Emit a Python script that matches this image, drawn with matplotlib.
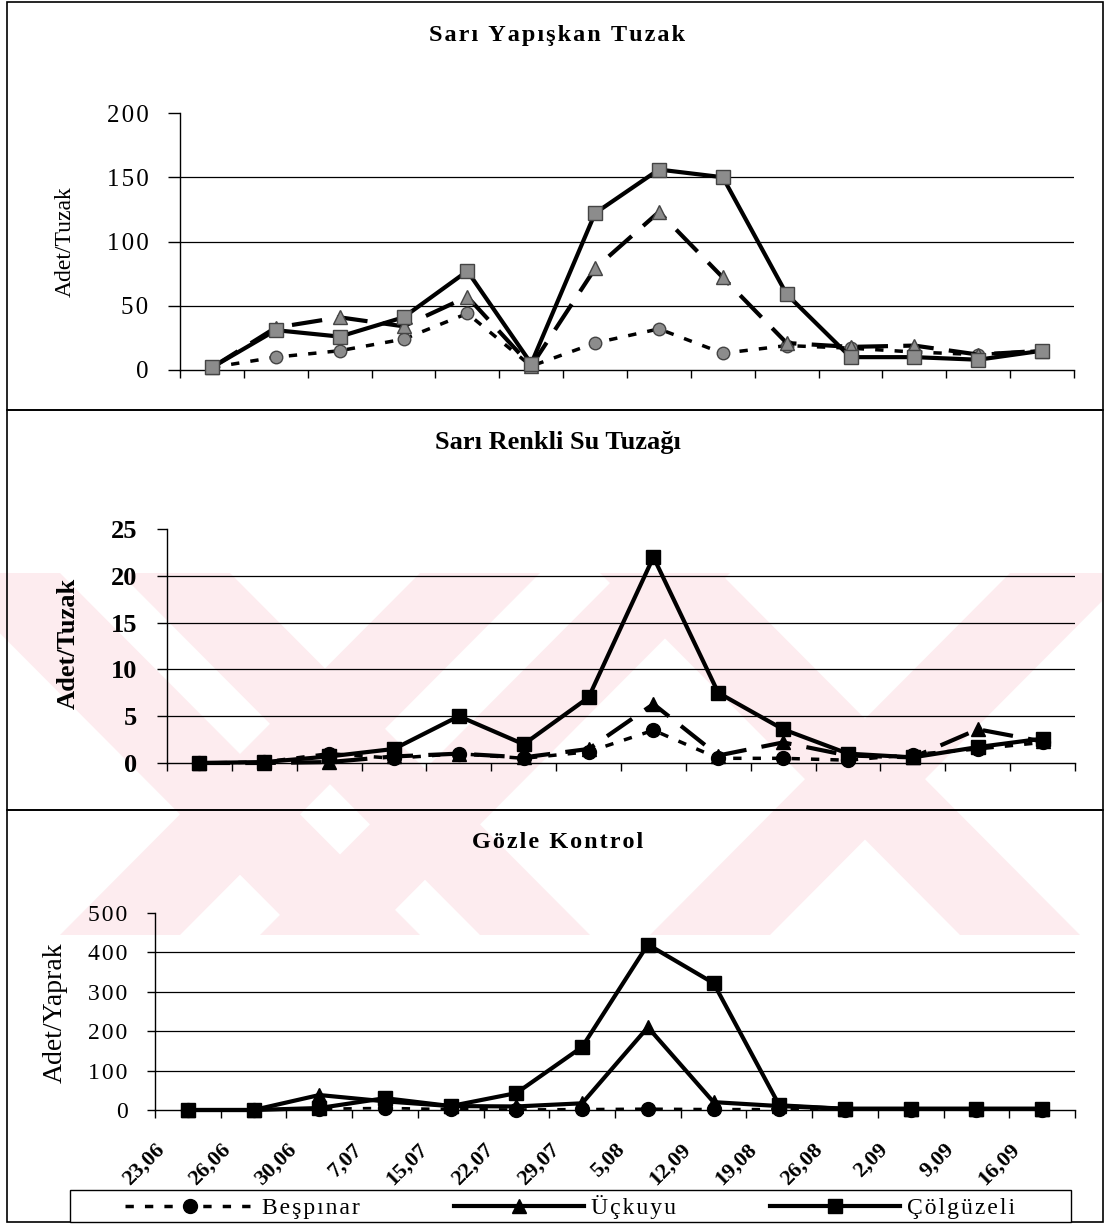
import matplotlib
matplotlib.use("Agg")
import matplotlib.pyplot as plt
from matplotlib.patches import Rectangle, Polygon
from matplotlib.lines import Line2D
import numpy as np

plt.rcParams['font.family'] = ['Liberation Serif', 'DejaVu Serif']
plt.rcParams['lines.scale_dashes'] = False

dates = ["23,06", "26,06", "30,06", "7,07", "15,07", "22,07", "29,07",
         "5,08", "12,09", "19,08", "26,08", "2,09", "9,09", "16,09"]
series_names = ["Beşpınar", "Üçkuyu", "Çölgüzeli"]

# Sarı Yapışkan Tuzak (Adet/Tuzak)
yap_besp = [2, 10, 15, 24, 44, 3, 21, 32, 13, 19, 17, 14, 12, 15]
yap_uck = [2, 33, 41, 34, 57, 3, 79, 123, 72, 21, 18, 19, 12, 15]
yap_colg = [2, 31, 26, 41, 77, 5, 122, 156, 150, 59, 10, 10, 8, 15]

# Sarı Renkli Su Tuzağı (Adet/Tuzak)
su_besp = [0, 0.1, 1.0, 0.5, 1.0, 0.5, 1.2, 3.5, 0.5, 0.5, 0.3, 0.9, 1.5, 2.2]
su_uck = [0, 0, 0.1, 0.7, 1.0, 0.6, 1.5, 6.3, 0.8, 2.2, 0.8, 0.6, 3.6, 2.3]
su_colg = [0, 0.1, 0.7, 1.5, 5.0, 2.0, 7.0, 22, 7.5, 3.6, 1.0, 0.6, 1.7, 2.6]

# Gözle Kontrol (Adet/Yaprak)
goz_besp = [0, 1, 3, 5, 2, 1, 2, 3, 2, 2, 1, 1, 1, 1]
goz_uck = [0, 0, 38, 22, 10, 9, 17, 210, 20, 10, 3, 3, 3, 3]
goz_colg = [0, 0, 5, 30, 10, 43, 160, 420, 322, 12, 3, 3, 3, 3]

W, H = 1108, 1226
fig = plt.figure(figsize=(W / 100, H / 100), dpi=100)


def fx(x):
    return x / W


def fy(y):
    return 1 - y / H


def spaced(s):
    # hair spaces give the letter-spaced look of the scan
    return "\u200a".join(s)


# faint pink watermark stripes behind the charts
pink = '#fdecef'
wm_top, wm_bot = 573, 935
stripes = [(-60, 60, 300, 420), (120, 230, 480, 590), (600, 720, 960, 1080),
           (420, 540, 60, 180), (620, 730, 260, 370), (1010, 1130, 650, 770)]
for tl, tr, bl, br in stripes:
    pts = [(fx(tl), fy(wm_top)), (fx(tr), fy(wm_top)), (fx(br), fy(wm_bot)), (fx(bl), fy(wm_bot))]
    fig.add_artist(Polygon(pts, closed=True, fc=pink, ec='none',
                           transform=fig.transFigure, zorder=-2))
fig.add_artist(Rectangle((0, 0), 1, fy(wm_bot), fc='white', ec='none',
                         transform=fig.transFigure, zorder=-1.5))
fig.add_artist(Rectangle((0, fy(wm_top)), 1, 1 - fy(wm_top), fc='white', ec='none',
                         transform=fig.transFigure, zorder=-1.5))
fig.add_artist(Rectangle((fx(1103), 0), 1, 1, fc='white', ec='none',
                         transform=fig.transFigure, zorder=-1.5))

# panel borders
for top, bot in [(2, 410), (410, 810), (810, 1222)]:
    fig.add_artist(Rectangle((fx(7), fy(bot)), fx(1103) - fx(7), fy(top) - fy(bot),
                             fill=False, lw=1.2, ec='black',
                             transform=fig.transFigure, zorder=0.5))

ax1 = fig.add_axes([fx(180), fy(370), fx(1074) - fx(180), fy(113) - fy(370)])
ax2 = fig.add_axes([fx(167), fy(763), fx(1075) - fx(167), fy(529) - fy(763)])
ax3 = fig.add_axes([fx(155), fy(1110), fx(1075) - fx(155), fy(913) - fy(1110)])

x = np.arange(len(dates))


def setup(ax, ymax, step, ticklen, fmt, size, weight):
    ax.set_facecolor('none')
    ax.set_xlim(-0.5, len(dates) - 0.5)
    ax.set_ylim(0, ymax)
    for s in ['top', 'right']:
        ax.spines[s].set_visible(False)
    ax.spines['left'].set_linewidth(1)
    ax.spines['bottom'].set_linewidth(1)
    yt = np.arange(0, ymax + step / 2, step)
    ax.set_yticks(yt)
    ax.set_yticklabels([fmt(v) for v in yt], fontsize=size, fontweight=weight)
    for v in yt[1:-1]:
        ax.axhline(v, color='black', lw=0.9, zorder=1)
    ax.set_xticks(np.arange(-0.5, len(dates), 1))
    ax.tick_params(axis='x', direction='out', length=6, width=1)
    ax.tick_params(axis='y', direction='out', length=ticklen, width=1, pad=14)


setup(ax1, 200, 50, 8.6, lambda v: spaced(str(int(v))), 18, 'normal')
setup(ax2, 25, 5, 7.2, lambda v: str(int(v)), 19, 'bold')
setup(ax3, 500, 100, 5.8, lambda v: spaced(str(int(v))), 17, 'normal')
ax1.set_xticklabels([])
ax2.set_xticklabels([])
ax3.set_xticklabels(dates + [""], rotation=45, ha='right', va='top',
                    rotation_mode='anchor', fontsize=16, fontweight='bold')
ax3.tick_params(axis='x', pad=15)

besp_dash = (6, 8)
uck_dash = (22, 11)

# top panel: gray markers
gray = '#8c8c8c'
ax1.plot(x, yap_besp, color='black', lw=2.5, dashes=besp_dash, marker='o', ms=9,
         mfc=gray, mec='#444444', clip_on=False, zorder=3)
ax1.plot(x, yap_uck, color='black', lw=3, dashes=uck_dash, marker='^', ms=10,
         mfc=gray, mec='#444444', clip_on=False, zorder=4)
ax1.plot(x, yap_colg, color='black', lw=3, marker='s', ms=10,
         mfc=gray, mec='#444444', clip_on=False, zorder=5)

ax2.plot(x, su_besp, color='black', lw=2.5, dashes=besp_dash, marker='o', ms=10,
         mfc='black', mec='black', clip_on=False, zorder=3)
ax2.plot(x, su_uck, color='black', lw=3, dashes=uck_dash, marker='^', ms=10,
         mfc='black', mec='black', clip_on=False, zorder=4)
ax2.plot(x, su_colg, color='black', lw=3, marker='s', ms=10,
         mfc='black', mec='black', clip_on=False, zorder=5)

ax3.plot(x, goz_besp, color='black', lw=2, dashes=besp_dash, marker='o', ms=10,
         mfc='black', mec='black', clip_on=False, zorder=3)
ax3.plot(x, goz_uck, color='black', lw=3, marker='^', ms=10,
         mfc='black', mec='black', clip_on=False, zorder=4)
ax3.plot(x, goz_colg, color='black', lw=3, marker='s', ms=10,
         mfc='black', mec='black', clip_on=False, zorder=5)

# titles and axis labels
fig.text(fx(557), fy(36), spaced("Sarı Yapışkan Tuzak"), ha='center', va='center',
         fontsize=17.5, fontweight='bold')
fig.text(fx(558), fy(442), "Sarı Renkli Su Tuzağı", ha='center', va='center',
         fontsize=19, fontweight='bold')
fig.text(fx(558), fy(842), spaced("Gözle Kontrol"), ha='center', va='center',
         fontsize=17.5, fontweight='bold')

fig.text(fx(65), fy(242), "Adet/Tuzak", rotation=90, ha='center', va='center', fontsize=17)
fig.text(fx(68), fy(643), "Adet/Tuzak", rotation=90, ha='center', va='center',
         fontsize=19, fontweight='bold')
fig.text(fx(55), fy(1013), "Adet/Yaprak", rotation=90, ha='center', va='center', fontsize=20)

# legend: frame drawn as its own box, entries centred inside it
fig.add_artist(Rectangle((fx(70), fy(1222)), fx(1071) - fx(70), fy(1190) - fy(1222),
                         fill=True, fc='white', lw=1, ec='black',
                         transform=fig.transFigure, zorder=4))
handles = [
    Line2D([], [], color='black', lw=2.5, dashes=besp_dash, marker='o', ms=10, mfc='black'),
    Line2D([], [], color='black', lw=3, marker='^', ms=10, mfc='black'),
    Line2D([], [], color='black', lw=3, marker='s', ms=10, mfc='black'),
]
leg = fig.legend(handles, [spaced(n) for n in series_names], ncol=3,
                 loc='center', bbox_to_anchor=(fx(570), fy(1207)),
                 bbox_transform=fig.transFigure, frameon=False,
                 handlelength=5.5, handletextpad=0.3, columnspacing=4.0,
                 borderaxespad=0, borderpad=0, prop={'size': 17})
leg.set_zorder(5)

fig.savefig("out.png", dpi=100)
